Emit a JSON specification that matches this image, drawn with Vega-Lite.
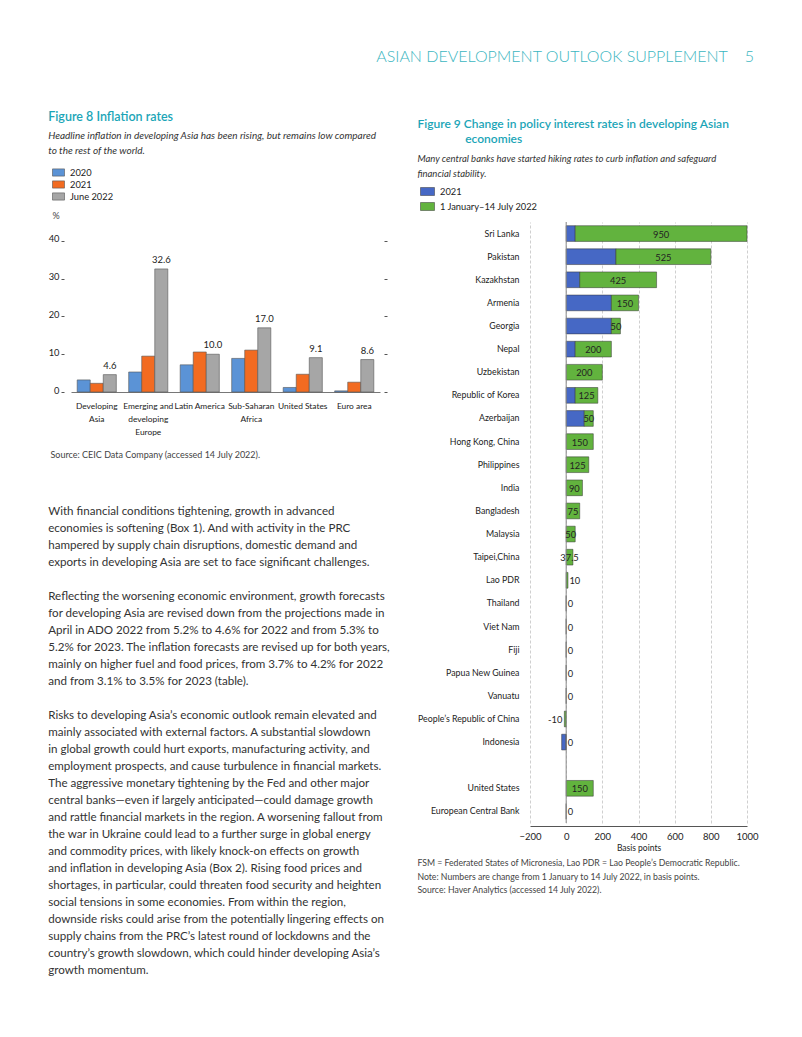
{
  "$schema": "https://vega.github.io/schema/vega-lite/v6.json",
  "background": "white",
  "padding": {"left": 48, "top": 48, "right": 10, "bottom": 10},
  "config": {"font": "Lato", "view": {"stroke": null}},
  "title": {"text": "ASIAN DEVELOPMENT OUTLOOK SUPPLEMENT\u00a0\u00a0\u00a0\u00a05", "anchor": "end", "fontSize": 16, "fontWeight": 300, "color": "#3bb6c1", "offset": 46, "dx": -4},
  "spacing": 26,
  "center": false,
  "resolve": {"scale": {"color": "independent"}, "legend": {"color": "independent"}},
  "hconcat": [
    {
      "title": {
        "text": [
          "With financial conditions tightening, growth in advanced",
          "economies is softening (Box 1). And with activity in the PRC",
          "hampered by supply chain disruptions, domestic demand and",
          "exports in developing Asia are set to face significant challenges.",
          "\u200b\u00a0\u200b",
          "Reflecting the worsening economic environment, growth forecasts",
          "for developing Asia are revised down from the projections made in",
          "April in ADO 2022 from 5.2% to 4.6% for 2022 and from 5.3% to",
          "5.2% for 2023. The inflation forecasts are revised up for both years,",
          "mainly on higher fuel and food prices, from 3.7% to 4.2% for 2022",
          "and from 3.1% to 3.5% for 2023 (table).",
          "\u200b\u00a0\u200b",
          "Risks to developing Asia’s economic outlook remain elevated and",
          "mainly associated with external factors. A substantial slowdown",
          "in global growth could hurt exports, manufacturing activity, and",
          "employment prospects, and cause turbulence in financial markets.",
          "The aggressive monetary tightening by the Fed and other major",
          "central banks—even if largely anticipated—could damage growth",
          "and rattle financial markets in the region. A worsening fallout from",
          "the war in Ukraine could lead to a further surge in global energy",
          "and commodity prices, with likely knock-on effects on growth",
          "and inflation in developing Asia (Box 2). Rising food prices and",
          "shortages, in particular, could threaten food security and heighten",
          "social tensions in some economies. From within the region,",
          "downside risks could arise from the potentially lingering effects on",
          "supply chains from the PRC’s latest round of lockdowns and the",
          "country’s growth slowdown, which could hinder developing Asia’s",
          "growth momentum."
        ],
        "orient": "bottom", "anchor": "start", "fontSize": 11.6, "fontWeight": "normal", "color": "#333333", "lineHeight": 17, "offset": 47
      },
      "vconcat": [
        {
          "width": 309,
          "height": 170,
          "title": {
            "text": "Figure 8  Inflation rates",
            "subtitle": ["Headline inflation in developing Asia has been rising, but remains low compared", "to the rest of the world."],
            "anchor": "start", "fontSize": 12.5, "fontWeight": 600, "color": "#1ba5b7",
            "subtitleFontStyle": "italic", "subtitleFontSize": 10, "subtitleColor": "#333333", "subtitleLineHeight": 15, "subtitlePadding": 8, "offset": 55
          },
          "data": {"values": [
            {"region": "Developing Asia", "series": "2020", "value": 3.2},
            {"region": "Developing Asia", "series": "2021", "value": 2.3},
            {"region": "Developing Asia", "series": "June 2022", "value": 4.6},
            {"region": "Emerging and developing Europe", "series": "2020", "value": 5.3},
            {"region": "Emerging and developing Europe", "series": "2021", "value": 9.5},
            {"region": "Emerging and developing Europe", "series": "June 2022", "value": 32.6},
            {"region": "Latin America", "series": "2020", "value": 7.2},
            {"region": "Latin America", "series": "2021", "value": 10.6},
            {"region": "Latin America", "series": "June 2022", "value": 10.0},
            {"region": "Sub-Saharan Africa", "series": "2020", "value": 8.9},
            {"region": "Sub-Saharan Africa", "series": "2021", "value": 11.1},
            {"region": "Sub-Saharan Africa", "series": "June 2022", "value": 17.0},
            {"region": "United States", "series": "2020", "value": 1.2},
            {"region": "United States", "series": "2021", "value": 4.7},
            {"region": "United States", "series": "June 2022", "value": 9.1},
            {"region": "Euro area", "series": "2020", "value": 0.3},
            {"region": "Euro area", "series": "2021", "value": 2.6},
            {"region": "Euro area", "series": "June 2022", "value": 8.6}
          ]},
          "resolve": {"axis": {"y": "independent"}},
          "layer": [
            {
              "mark": {"type": "bar", "stroke": "#555555", "strokeWidth": 0.6},
              "encoding": {
                "x": {
                  "field": "region", "type": "nominal", "sort": null,
                  "scale": {"paddingInner": 0.24, "paddingOuter": 0.12},
                  "axis": {
                    "title": "Source: CEIC Data Company (accessed 14 July 2022).",
                    "titleAnchor": "start", "titleX": -21, "titleY": 62, "titleBaseline": "middle", "titleAlign": "left",
                    "titleFontSize": 9, "titleFontWeight": "normal", "titleColor": "#444444",
                    "labelAngle": 0, "labelFontSize": 8.4, "labelColor": "#222222", "labelPadding": 9, "labelLineHeight": 13,
                    "labelOverlap": false, "labelLimit": 200, "ticks": false, "domainColor": "#777777",
                    "labelExpr": "datum.value == 'Developing Asia' ? ['Developing', 'Asia'] : datum.value == 'Emerging and developing Europe' ? ['Emerging and', 'developing', 'Europe'] : datum.value == 'Sub-Saharan Africa' ? ['Sub-Saharan', 'Africa'] : datum.value"
                  }
                },
                "xOffset": {"field": "series", "type": "nominal", "scale": {"domain": ["2020", "2021", "June 2022"], "paddingInner": 0, "paddingOuter": 0}},
                "y": {
                  "field": "value", "type": "quantitative", "scale": {"domain": [0, 45.03], "nice": false},
                  "axis": {
                    "title": "%", "titleAngle": 0, "titleAlign": "left", "titleBaseline": "middle", "titleX": -12, "titleY": -7,
                    "titleFontSize": 9, "titleFontWeight": "normal", "titleColor": "#444444",
                    "values": [0, 10, 20, 30, 40], "tickCount": 10, "grid": false, "domain": false, "tickSize": 3, "tickColor": "#555555", "offset": 7,
                    "labelFontSize": 9.3, "labelColor": "#222222", "labelPadding": 2, "labelBaseline": "middle", "labelOffset": -2
                  }
                },
                "color": {
                  "field": "series", "type": "nominal",
                  "scale": {"domain": ["2020", "2021", "June 2022"], "range": ["#5b93d6", "#f26b21", "#a6a6a6"]},
                  "legend": {
                    "orient": "none", "legendX": -19, "legendY": -56, "title": null,
                    "symbolType": "M-1,-0.6H1V0.6H-1Z", "symbolSize": 144, "symbolStrokeColor": "#555555", "symbolStrokeWidth": 0.6,
                    "labelFontSize": 9.3, "labelColor": "#222222", "labelOffset": 5, "rowPadding": 0
                  }
                }
              }
            },
            {
              "transform": [{"filter": "datum.series == 'June 2022'"}],
              "mark": {"type": "text", "baseline": "bottom", "dy": -4, "fontSize": 9.5, "color": "#222222"},
              "encoding": {
                "x": {"field": "region", "type": "nominal", "sort": null},
                "xOffset": {"field": "series", "type": "nominal"},
                "y": {
                  "field": "value", "type": "quantitative",
                  "axis": {"orient": "right", "title": null, "labels": false, "domain": false, "grid": false, "values": [0, 10, 20, 30, 40], "tickCount": 10, "tickSize": 3, "tickColor": "#555555", "offset": 4}
                },
                "text": {"field": "value", "type": "quantitative", "format": ".1f"}
              }
            }
          ]
        }
      ]
    },
    {
      "title": {
        "text": [
          "FSM = Federated States of Micronesia, Lao PDR = Lao People’s Democratic Republic.",
          "Note: Numbers are change from 1 January to 14 July 2022, in basis points.",
          "Source: Haver Analytics (accessed 14 July 2022)."
        ],
        "orient": "bottom", "anchor": "start", "fontSize": 8.7, "fontWeight": "normal", "color": "#444444", "lineHeight": 13.5, "offset": 7
      },
      "vconcat": [
        {
          "width": 217,
          "height": 601,
          "title": {
            "text": ["Figure 9  Change in policy interest rates in developing Asian", "\u200b\u00a0\u00a0\u00a0\u00a0\u00a0\u00a0\u00a0\u00a0\u00a0\u00a0\u00a0\u00a0\u00a0\u00a0\u00a0\u00a0economies"],
            "subtitle": ["Many central banks have started hiking rates to curb inflation and safeguard", "financial stability."],
            "anchor": "start", "fontSize": 12, "fontWeight": 600, "color": "#1ba5b7", "lineHeight": 15,
            "subtitleFontStyle": "italic", "subtitleFontSize": 9.5, "subtitleColor": "#333333", "subtitleLineHeight": 15, "subtitlePadding": 8, "offset": 42
          },
          "data": {"values": [
            {"country": "Sri Lanka", "series": "2021", "bp": 50},
            {"country": "Pakistan", "series": "2021", "bp": 275},
            {"country": "Kazakhstan", "series": "2021", "bp": 75},
            {"country": "Armenia", "series": "2021", "bp": 250},
            {"country": "Georgia", "series": "2021", "bp": 250},
            {"country": "Nepal", "series": "2021", "bp": 50},
            {"country": "Republic of Korea", "series": "2021", "bp": 50},
            {"country": "Azerbaijan", "series": "2021", "bp": 100},
            {"country": "Indonesia", "series": "2021", "bp": -25},
            {"country": "Sri Lanka", "series": "1 January–14 July 2022", "bp": 950},
            {"country": "Pakistan", "series": "1 January–14 July 2022", "bp": 525},
            {"country": "Kazakhstan", "series": "1 January–14 July 2022", "bp": 425},
            {"country": "Armenia", "series": "1 January–14 July 2022", "bp": 150},
            {"country": "Georgia", "series": "1 January–14 July 2022", "bp": 50},
            {"country": "Nepal", "series": "1 January–14 July 2022", "bp": 200},
            {"country": "Uzbekistan", "series": "1 January–14 July 2022", "bp": 200},
            {"country": "Republic of Korea", "series": "1 January–14 July 2022", "bp": 125},
            {"country": "Azerbaijan", "series": "1 January–14 July 2022", "bp": 50},
            {"country": "Hong Kong, China", "series": "1 January–14 July 2022", "bp": 150},
            {"country": "Philippines", "series": "1 January–14 July 2022", "bp": 125},
            {"country": "India", "series": "1 January–14 July 2022", "bp": 90},
            {"country": "Bangladesh", "series": "1 January–14 July 2022", "bp": 75},
            {"country": "Malaysia", "series": "1 January–14 July 2022", "bp": 50},
            {"country": "Taipei,China", "series": "1 January–14 July 2022", "bp": 37.5},
            {"country": "Lao PDR", "series": "1 January–14 July 2022", "bp": 10},
            {"country": "Thailand", "series": "1 January–14 July 2022", "bp": 0},
            {"country": "Viet Nam", "series": "1 January–14 July 2022", "bp": 0},
            {"country": "Fiji", "series": "1 January–14 July 2022", "bp": 0},
            {"country": "Papua New Guinea", "series": "1 January–14 July 2022", "bp": 0},
            {"country": "Vanuatu", "series": "1 January–14 July 2022", "bp": 0},
            {"country": "People’s Republic of China", "series": "1 January–14 July 2022", "bp": -10},
            {"country": "Indonesia", "series": "1 January–14 July 2022", "bp": 0},
            {"country": "United States", "series": "1 January–14 July 2022", "bp": 150},
            {"country": "European Central Bank", "series": "1 January–14 July 2022", "bp": 0}
          ]},
          "layer": [
            {
              "transform": [{"stack": "bp", "groupby": ["country"], "sort": [{"field": "series", "order": "descending"}], "as": ["v0", "v1"]}],
              "mark": {"type": "bar", "stroke": "#333333", "strokeWidth": 0.5},
              "encoding": {
                "y": {
                  "field": "country", "type": "nominal",
                  "scale": {"domain": ["Sri Lanka", "Pakistan", "Kazakhstan", "Armenia", "Georgia", "Nepal", "Uzbekistan", "Republic of Korea", "Azerbaijan", "Hong Kong, China", "Philippines", "India", "Bangladesh", "Malaysia", "Taipei,China", "Lao PDR", "Thailand", "Viet Nam", "Fiji", "Papua New Guinea", "Vanuatu", "People’s Republic of China", "Indonesia", " ", "United States", "European Central Bank"], "paddingInner": 0.32, "paddingOuter": 0.16},
                  "axis": {"title": null, "ticks": false, "domain": false, "labelFontSize": 8.8, "labelColor": "#222222", "labelPadding": 11, "labelLimit": 200}
                },
                "x": {
                  "field": "v0", "type": "quantitative", "title": "Basis points",
                  "scale": {"domain": [-200, 1000], "nice": false},
                  "axis": {
                    "values": [-200, 0, 200, 400, 600, 800, 1000], "tickCount": 10, "format": "d", "grid": true, "gridColor": "#cfcfcf", "gridDash": [3, 2],
                    "ticks": false, "domainColor": "#555555", "offset": 3, "labelFlush": false, "labelOverlap": false,
                    "labelFontSize": 9.5, "labelColor": "#222222", "labelPadding": 5,
                    "titleFontSize": 8.5, "titleFontWeight": "normal", "titleColor": "#222222", "titlePadding": 3
                  }
                },
                "x2": {"field": "v1"},
                "color": {
                  "field": "series", "type": "nominal",
                  "scale": {"domain": ["2021", "1 January–14 July 2022"], "range": ["#4668c5", "#62b33e"]},
                  "legend": {
                    "orient": "none", "legendX": -110, "legendY": -38, "title": null,
                    "symbolType": "M-1,-0.57H1V0.57H-1Z", "symbolSize": 196, "symbolStrokeColor": "#333333", "symbolStrokeWidth": 0.5,
                    "labelFontSize": 9.3, "labelColor": "#222222", "labelOffset": 5, "rowPadding": 2
                  }
                }
              }
            },
            {
              "data": {"values": [{"z": 0}]},
              "mark": {"type": "rule", "color": "#8a8a8a", "strokeWidth": 1},
              "encoding": {
                "x": {
                  "field": "z", "type": "quantitative", "title": "Basis points",
                  "axis": {
                    "values": [-200, 0, 200, 400, 600, 800, 1000], "tickCount": 10, "format": "d", "grid": true, "gridColor": "#cfcfcf", "gridDash": [3, 2],
                    "ticks": false, "domainColor": "#555555", "offset": 3, "labelFlush": false, "labelOverlap": false,
                    "labelFontSize": 9.5, "labelColor": "#222222", "labelPadding": 5,
                    "titleFontSize": 8.5, "titleFontWeight": "normal", "titleColor": "#222222", "titlePadding": 3
                  }
                }
              }
            },
            {
              "transform": [
                {"stack": "bp", "groupby": ["country"], "sort": [{"field": "series", "order": "descending"}], "as": ["v0", "v1"]},
                {"filter": "datum.series != '2021' && datum.bp >= 30"},
                {"fold": ["v0", "v1"]},
                {"aggregate": [{"op": "mean", "field": "value", "as": "mid"}], "groupby": ["country", "bp"]}
              ],
              "mark": {"type": "text", "fontSize": 9.3, "color": "#222222", "baseline": "middle", "dy": 1},
              "encoding": {
                "y": {"field": "country", "type": "nominal"},
                "x": {"field": "mid", "type": "quantitative", "title": "Basis points"},
                "text": {"field": "bp", "type": "nominal"}
              }
            },
            {
              "transform": [{"filter": "datum.series != '2021' && datum.bp >= 0 && datum.bp < 30"}],
              "mark": {"type": "text", "fontSize": 9.3, "color": "#222222", "baseline": "middle", "align": "left", "dx": 1.5, "dy": 1},
              "encoding": {
                "y": {"field": "country", "type": "nominal"},
                "x": {"field": "bp", "type": "quantitative", "title": "Basis points"},
                "text": {"field": "bp", "type": "nominal"}
              }
            },
            {
              "transform": [{"filter": "datum.series != '2021' && datum.bp < 0"}],
              "mark": {"type": "text", "fontSize": 9.3, "color": "#222222", "baseline": "middle", "align": "right", "dx": -2, "dy": 1},
              "encoding": {
                "y": {"field": "country", "type": "nominal"},
                "x": {"field": "bp", "type": "quantitative", "title": "Basis points"},
                "text": {"field": "bp", "type": "nominal"}
              }
            }
          ]
        }
      ]
    }
  ]
}
